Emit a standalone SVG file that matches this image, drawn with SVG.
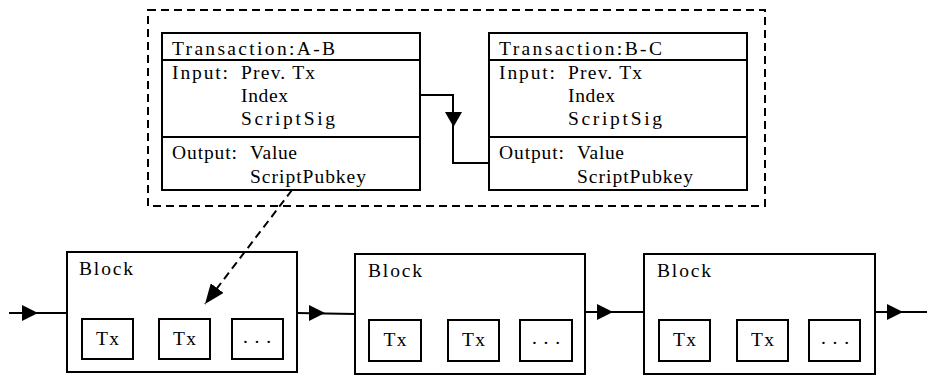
<svg xmlns="http://www.w3.org/2000/svg" width="927" height="376" viewBox="0 0 927 376">
<style>
.box{fill:#fff;stroke:#000;stroke-width:2}
.ln{fill:none;stroke:#000;stroke-width:2}
.dash{fill:none;stroke:#000;stroke-width:2;stroke-dasharray:8 5}
text{font-family:"Liberation Serif","DejaVu Serif",serif;font-size:19.5px;fill:#000}
</style>
<defs>
<marker id="ah2" viewBox="0 0 20 16" refX="20" refY="8" markerWidth="20" markerHeight="16" markerUnits="userSpaceOnUse" orient="auto">
<path d="M0,0 L20,8 L0,16 Z" fill="#000"/>
</marker>
</defs>
<g id="tx-group">
<rect class="dash" x="148" y="10" width="617" height="196"/>
</g>
<g id="tx-ab">
<rect class="box" x="162" y="33" width="258" height="157"/>
<line class="ln" x1="162" y1="60" x2="420" y2="60"/>
<line class="ln" x1="162" y1="137" x2="420" y2="137"/>
<text x="172" y="55" textLength="163" lengthAdjust="spacing">Transaction:A-B</text>
<text x="172" y="79" textLength="56" lengthAdjust="spacing">Input:</text>
<text x="241" y="79" textLength="74" lengthAdjust="spacing">Prev. Tx</text>
<text x="241" y="102" textLength="47" lengthAdjust="spacing">Index</text>
<text x="241" y="125" textLength="94" lengthAdjust="spacing">ScriptSig</text>
<text x="172" y="159" textLength="65" lengthAdjust="spacing">Output:</text>
<text x="250" y="159" textLength="47" lengthAdjust="spacing">Value</text>
<text x="250" y="183" textLength="116" lengthAdjust="spacing">ScriptPubkey</text>
</g>
<g id="tx-bc">
<rect class="box" x="489" y="33" width="258" height="157"/>
<line class="ln" x1="489" y1="60" x2="747" y2="60"/>
<line class="ln" x1="489" y1="137" x2="747" y2="137"/>
<text x="499" y="55" textLength="163" lengthAdjust="spacing">Transaction:B-C</text>
<text x="499" y="79" textLength="56" lengthAdjust="spacing">Input:</text>
<text x="568" y="79" textLength="74" lengthAdjust="spacing">Prev. Tx</text>
<text x="568" y="102" textLength="47" lengthAdjust="spacing">Index</text>
<text x="568" y="125" textLength="94" lengthAdjust="spacing">ScriptSig</text>
<text x="499" y="159" textLength="65" lengthAdjust="spacing">Output:</text>
<text x="577" y="159" textLength="47" lengthAdjust="spacing">Value</text>
<text x="577" y="183" textLength="116" lengthAdjust="spacing">ScriptPubkey</text>
</g>
<g id="block1">
<rect class="box" x="67" y="252" width="230" height="120"/>
<text x="79" y="275" textLength="54" lengthAdjust="spacing">Block</text>
<rect class="box" x="82" y="319" width="51" height="40"/>
<text x="96" y="345" textLength="23" lengthAdjust="spacing">Tx</text>
<rect class="box" x="159" y="319" width="51" height="40"/>
<text x="173" y="345" textLength="23" lengthAdjust="spacing">Tx</text>
<rect class="box" x="232" y="319" width="51" height="40"/>
<text x="243" y="343" textLength="28" lengthAdjust="spacing">...</text>
</g>
<g id="block2">
<rect class="box" x="355" y="254" width="230" height="120"/>
<text x="368" y="277" textLength="54" lengthAdjust="spacing">Block</text>
<rect class="box" x="369" y="320" width="52" height="41"/>
<text x="383.5" y="346" textLength="23" lengthAdjust="spacing">Tx</text>
<rect class="box" x="448" y="320" width="51" height="41"/>
<text x="462" y="346" textLength="23" lengthAdjust="spacing">Tx</text>
<rect class="box" x="520" y="320" width="52" height="41"/>
<text x="532" y="344" textLength="28" lengthAdjust="spacing">...</text>
</g>
<g id="block3">
<rect class="box" x="644" y="254" width="231" height="120"/>
<text x="657" y="277" textLength="54" lengthAdjust="spacing">Block</text>
<rect class="box" x="659" y="320" width="51" height="41"/>
<text x="673" y="346" textLength="23" lengthAdjust="spacing">Tx</text>
<rect class="box" x="737" y="320" width="51" height="41"/>
<text x="751" y="346" textLength="23" lengthAdjust="spacing">Tx</text>
<rect class="box" x="809" y="320" width="51" height="41"/>
<text x="821" y="344" textLength="28" lengthAdjust="spacing">...</text>
</g>
<g id="connectors">
<path class="ln" d="M420,95 H453 V163 H489"/>
<path d="M445,112 L462,112 L453.5,127 Z" fill="#000"/>
<line class="dash" x1="292" y1="190" x2="205" y2="304" marker-end="url(#ah2)"/>
<line class="ln" x1="9" y1="313" x2="67" y2="313"/>
<path d="M22,305 L38,313 L22,321 Z" fill="#000"/>
<line class="ln" x1="297" y1="313" x2="355" y2="314"/>
<path d="M309,305 L325,313 L309,321 Z" fill="#000"/>
<line class="ln" x1="585" y1="312" x2="644" y2="312"/>
<path d="M597,304 L613,312 L597,320 Z" fill="#000"/>
<line class="ln" x1="875" y1="312" x2="927" y2="312"/>
<path d="M887,304 L903,312 L887,320 Z" fill="#000"/>
</g>
</svg>
